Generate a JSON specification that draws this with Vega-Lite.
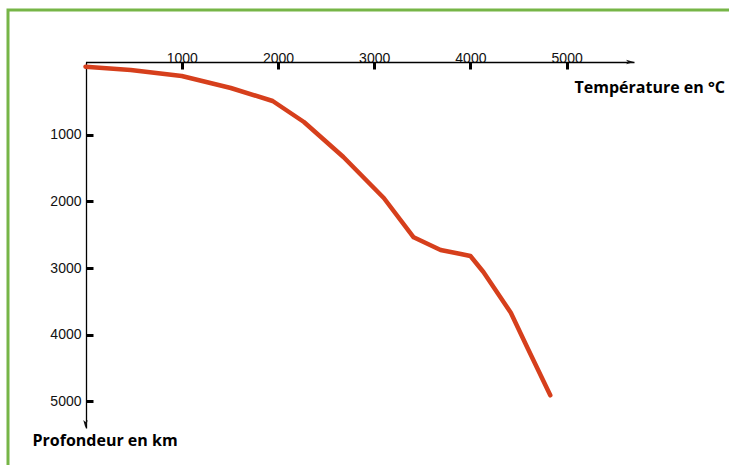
{
  "$schema": "https://vega.github.io/schema/vega-lite/v6.json",
  "autosize": {"type": "none"},
  "padding": {"left": 8, "top": 10, "right": -12, "bottom": -12},
  "width": 733,
  "height": 467,
  "background": "white",
  "config": {
    "view": {"stroke": "#76b547", "strokeWidth": 3, "fill": "white"},
    "axis": {"grid": false, "domainColor": "#000", "tickColor": "#000"}
  },
  "datasets": {
    "curve": [
      {"T": 0, "D": -20},
      {"T": 470, "D": 30},
      {"T": 1000, "D": 120},
      {"T": 1510, "D": 300},
      {"T": 1945, "D": 495},
      {"T": 2270, "D": 810},
      {"T": 2680, "D": 1335},
      {"T": 3100, "D": 1950},
      {"T": 3410, "D": 2540},
      {"T": 3690, "D": 2730},
      {"T": 3900, "D": 2790},
      {"T": 4000, "D": 2820},
      {"T": 4135, "D": 3060},
      {"T": 4420, "D": 3670},
      {"T": 4590, "D": 4190},
      {"T": 4830, "D": 4910}
    ],
    "xend": [{"T": 5700, "D": -90}],
    "yend": [{"T": 0, "D": 5400}]
  },
  "layer": [
    {
      "data": {"name": "curve"},
      "mark": {"type": "line", "color": "#d63f1c", "strokeWidth": 4.5, "strokeJoin": "round", "strokeCap": "round"},
      "encoding": {
        "x": {
          "field": "T", "type": "quantitative",
          "scale": {"domain": [0, 5700], "range": [77.5, 626], "nice": false, "zero": false},
          "axis": {
            "orient": "top", "offset": -52,
            "values": [1000, 2000, 3000, 4000, 5000], "format": "d",
            "labelFont": "Liberation Sans", "labelFontSize": 14, "labelColor": "#111",
            "tickSize": -7, "tickWidth": 3, "labelPadding": 4, "domainWidth": 1.3,
            "title": "Température en °C", "titleFont": "Open Sans", "titleFontWeight": "bold", "titleFontSize": 16,
            "titleColor": "#000", "titleX": 566, "titleY": 25, "titleAlign": "left", "titleBaseline": "middle", "titleAnchor": null
          }
        },
        "y": {
          "field": "D", "type": "quantitative",
          "scale": {"domain": [-90, 5400], "range": [52, 418], "nice": false, "zero": false},
          "axis": {
            "orient": "left", "offset": -78,
            "values": [1000, 2000, 3000, 4000, 5000], "format": "d",
            "labelFont": "Liberation Sans", "labelFontSize": 14, "labelColor": "#111",
            "tickSize": -7, "tickWidth": 3, "labelPadding": 12, "domainWidth": 1.3,
            "title": "Profondeur en km", "titleFont": "Open Sans", "titleFontWeight": "bold", "titleFontSize": 16,
            "titleColor": "#000", "titleAngle": 0, "titleX": -54, "titleY": 430, "titleAlign": "left", "titleBaseline": "middle", "titleAnchor": null
          }
        }
      }
    },
    {
      "data": {"name": "xend"},
      "mark": {"type": "point", "shape": "M0,0L-1.6,-0.45L-1.2,0L-1.6,0.45Z", "size": 100, "filled": true, "color": "#111", "opacity": 1, "angle": 0},
      "encoding": {
        "x": {"field": "T", "type": "quantitative"},
        "y": {"field": "D", "type": "quantitative"}
      }
    },
    {
      "data": {"name": "yend"},
      "mark": {"type": "point", "shape": "M0,0L-1.6,-0.45L-1.2,0L-1.6,0.45Z", "size": 100, "filled": true, "color": "#111", "opacity": 1, "angle": 90},
      "encoding": {
        "x": {"field": "T", "type": "quantitative"},
        "y": {"field": "D", "type": "quantitative"}
      }
    }
  ]
}
